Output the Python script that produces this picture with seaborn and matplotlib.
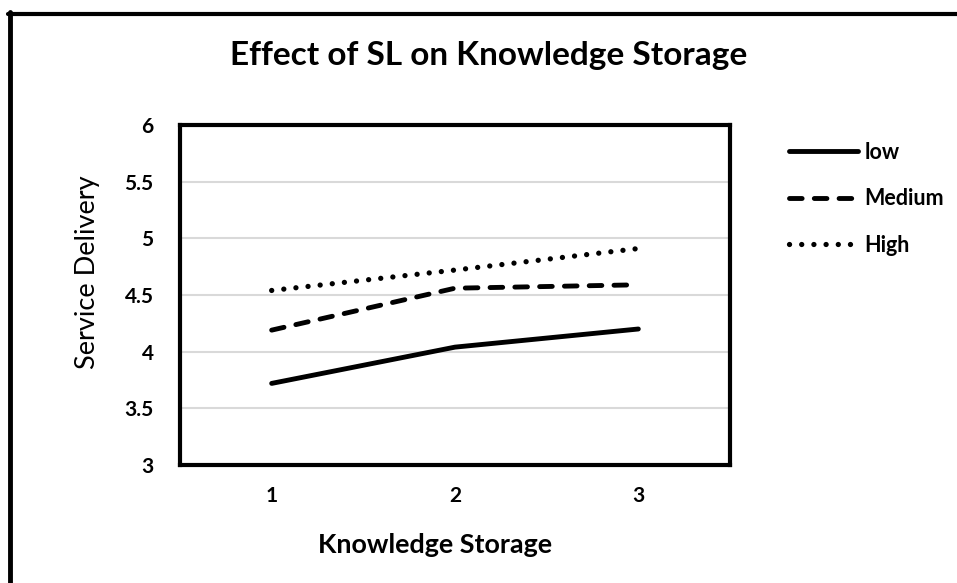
import matplotlib
matplotlib.use("Agg")
import matplotlib.pyplot as plt
import seaborn as sns
import pandas as pd
from matplotlib.lines import Line2D

x_cats = [1, 2, 3]
low = [3.72, 4.04, 4.20]
medium = [4.19, 4.56, 4.59]
high = [4.54, 4.72, 4.91]
series_names = ["low", "Medium", "High"]
y_ticks = [3, 3.5, 4, 4.5, 5, 5.5, 6]
y_tick_labels = ["3", "3.5", "4", "4.5", "5", "5.5", "6"]

sns.set_theme(style="white")
plt.rcParams["font.family"] = ["Lato", "DejaVu Sans"]
for k in ["text.color", "axes.labelcolor", "xtick.color", "ytick.color"]:
    plt.rcParams[k] = "black"

fig = plt.figure(figsize=(9.57, 5.83), dpi=100)
ax = fig.add_axes([180 / 957, 118 / 583, 550 / 957, 340 / 583])

styles = {
    "low": dict(linestyle="-", lw=3.5),
    "Medium": dict(dashes=(2.6, 2.5), lw=3.5),
    "High": dict(dashes=(0.01, 2.3), lw=3.8),
}
for name, vals in zip(series_names, [low, medium, high]):
    df = pd.DataFrame({"x": [0, 1, 2], "y": vals})
    sns.lineplot(data=df, x="x", y="y", ax=ax, color="black",
                 label=name, solid_capstyle="round", dash_capstyle="round",
                 **styles[name])

ax.set_xlim(-0.5, 2.5)
ax.set_ylim(3, 6)
ax.set_xticks([0, 1, 2])
ax.set_xticklabels([str(c) for c in x_cats], fontweight="bold", fontsize=15)
ax.set_yticks(y_ticks)
ax.set_yticklabels(y_tick_labels, fontweight="bold", fontsize=15)
ax.tick_params(axis="y", length=0, pad=19)
ax.tick_params(axis="x", length=0, pad=15)
ax.yaxis.grid(True, color="#d9d9d9", lw=1.5)
ax.xaxis.grid(False)
for s in ax.spines.values():
    s.set_color("black")
    s.set_linewidth(3)
ax.set_xlabel("")
ax.set_ylabel("")

fig.text(435 / 957, 1 - 545 / 583, "Knowledge Storage", ha="center", va="center",
         fontweight="bold", fontsize=19.4)
fig.text(88 / 957, 1 - 272 / 583, "Service Delivery", ha="center", va="center",
         rotation=90, fontsize=19.5)
fig.text(489 / 957, 1 - 56 / 583, "Effect of SL on Knowledge Storage", ha="center",
         va="center", fontweight="bold", fontsize=24)

leg = ax.legend(loc="upper left", bbox_to_anchor=(789 / 957, 1 - 142 / 583),
                bbox_transform=fig.transFigure, frameon=False, handlelength=3.2,
                handletextpad=0.3, labelspacing=1.18, borderpad=0, borderaxespad=0,
                prop={"weight": "bold", "size": 15.5})

fig.add_artist(Line2D([8 / 957, 1], [1 - 13.5 / 583, 1 - 13.5 / 583],
                      transform=fig.transFigure, color="black", lw=3))
fig.add_artist(Line2D([10 / 957, 10 / 957], [0, 1 - 12 / 583],
                      transform=fig.transFigure, color="black", lw=3.5))

fig.savefig("out.png", dpi=100)
